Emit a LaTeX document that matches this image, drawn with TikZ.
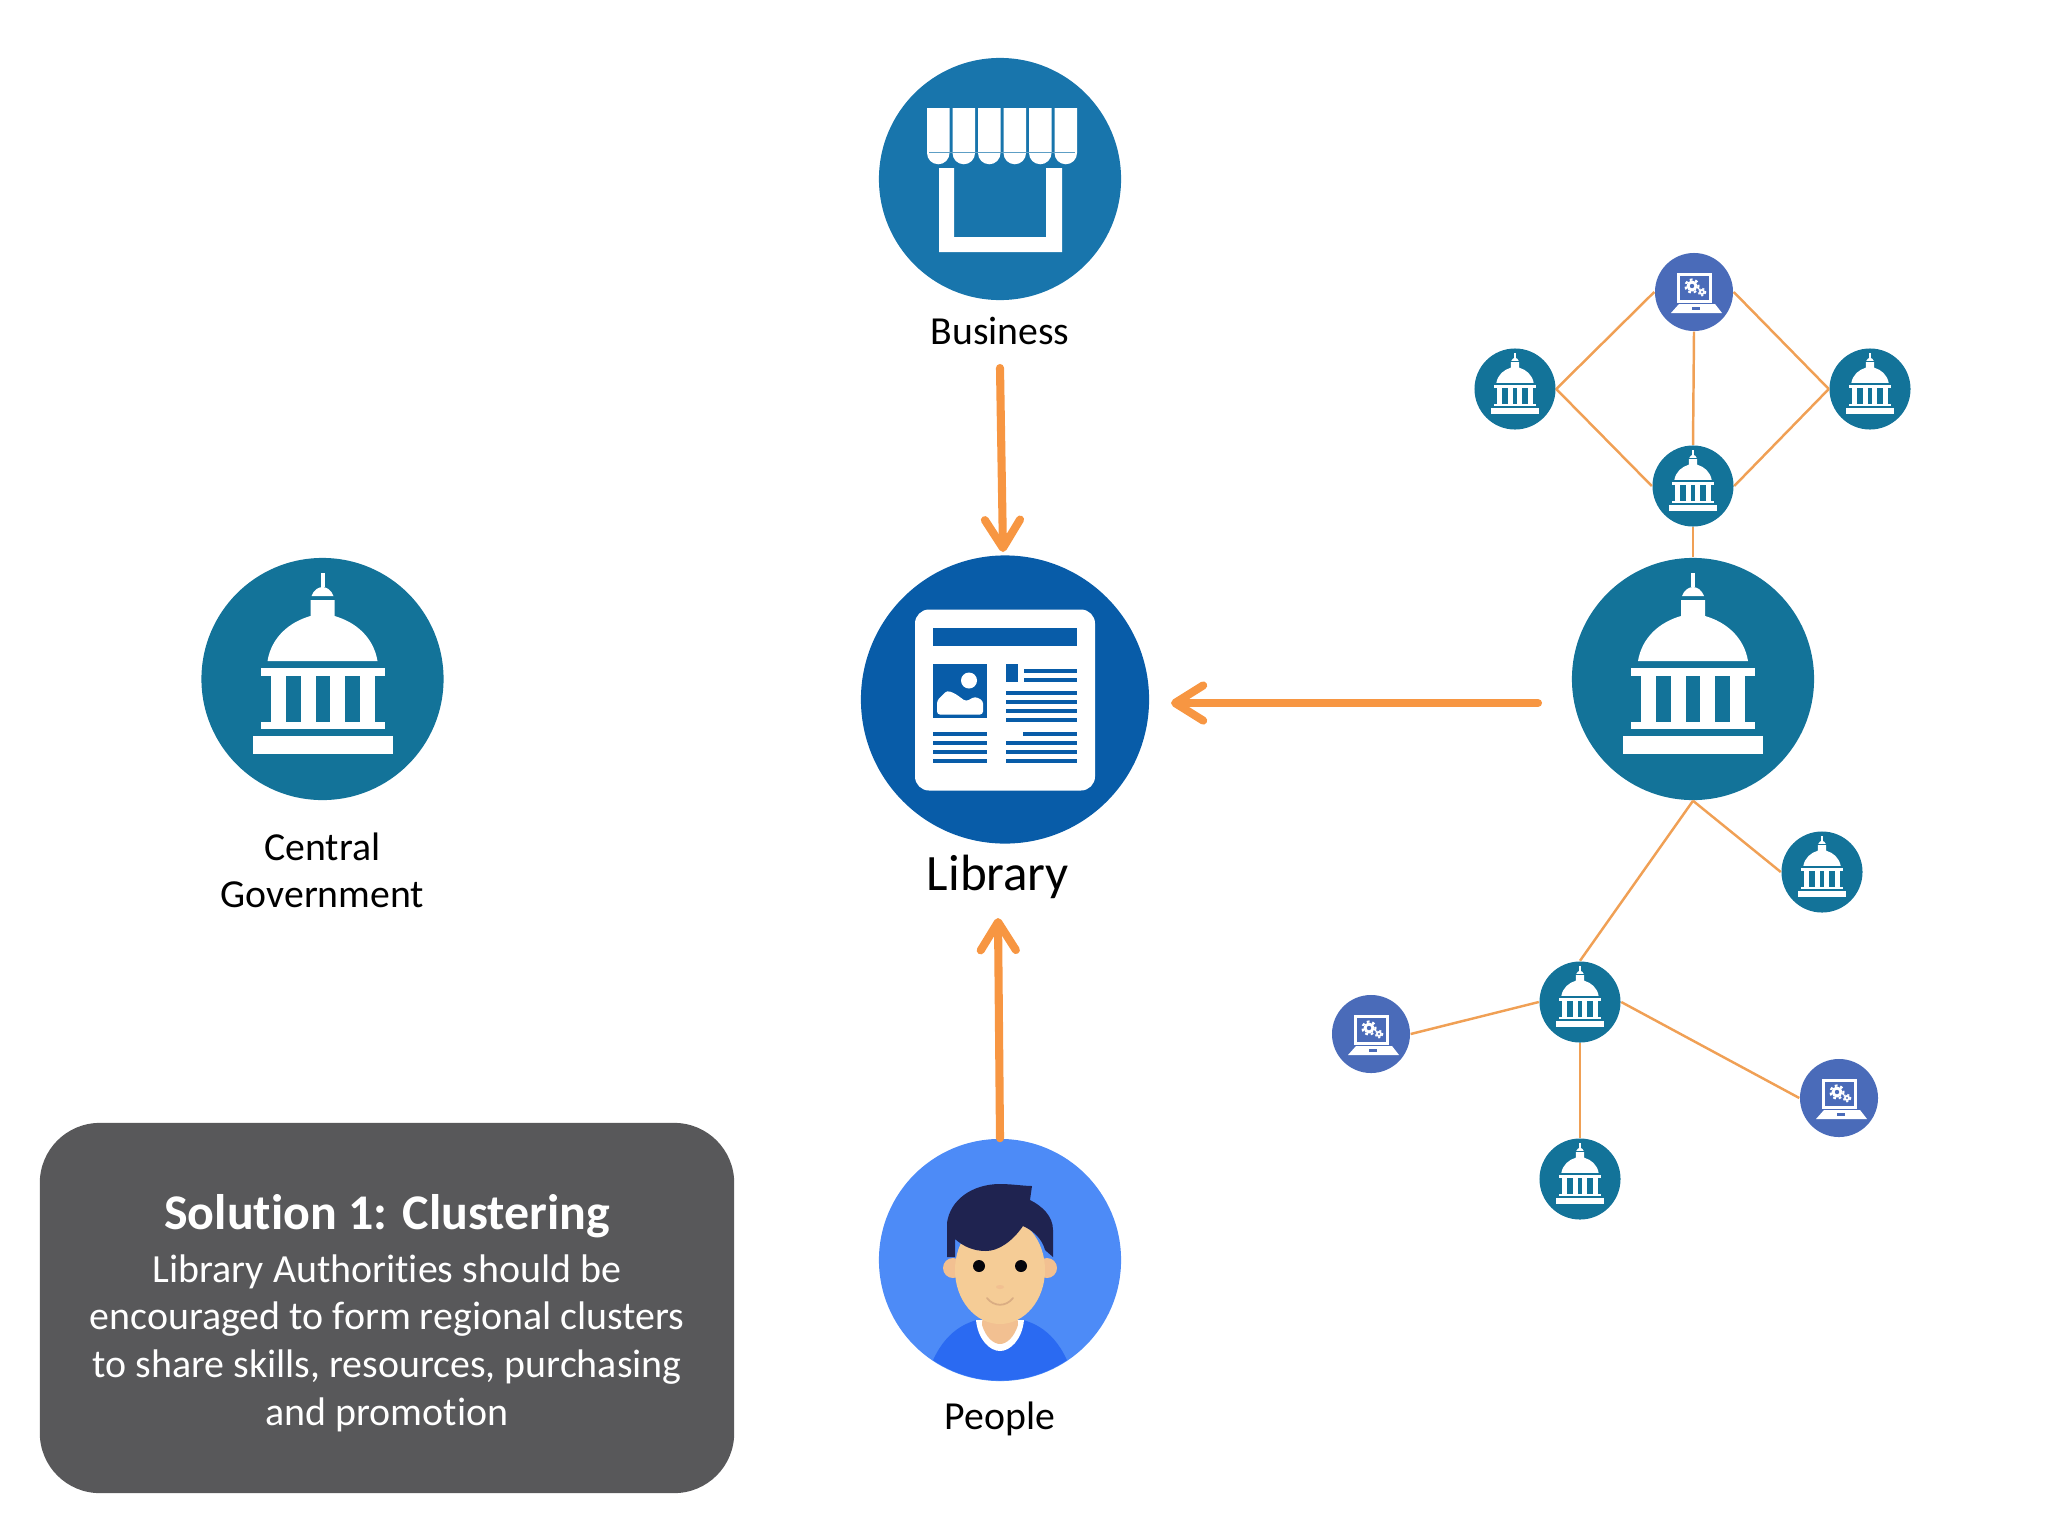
\documentclass[tikz,border=0pt]{standalone}
\usepackage{fontspec}
\setmainfont[Ligatures=NoCommon]{Carlito}
\usepackage{xcolor}
\usetikzlibrary{arrows.meta,positioning}
\definecolor{clusterorange}{RGB}{247,150,66}
\definecolor{linkorange}{RGB}{240,160,85}
\definecolor{govteal}{RGB}{19,115,153}
\definecolor{bizblue}{RGB}{24,117,172}
\definecolor{libblue}{RGB}{8,92,168}
\definecolor{laptopblue}{RGB}{74,107,185}
\definecolor{peopleblue}{RGB}{77,139,247}
\definecolor{shirtblue}{RGB}{42,106,242}
\definecolor{hairnavy}{RGB}{31,35,80}
\definecolor{skintone}{RGB}{245,204,150}
\definecolor{necktone}{RGB}{242,192,145}
\definecolor{boxgrey}{RGB}{88,88,90}

\tikzset{
  pics/capitol/.style={code={
    \fill[white] (-70,57) rectangle (70,75);
    \fill[white] (-62,43) rectangle (62,50);
    \fill[white] (-52,-3) rectangle (-37,43);
    \fill[white] (-22,-3) rectangle (-7,43);
    \fill[white] (7,-3) rectangle (22,43);
    \fill[white] (37,-3) rectangle (52,43);
    \fill[white] (-62,-11) rectangle (62,-3);
    \fill[white] (-55,-18) .. controls (-51,-42) and (-33,-57) .. (-12,-63) -- (-12,-79)
      -- (12,-79) -- (12,-63) .. controls (33,-57) and (51,-42) .. (55,-18) -- cycle;
    \fill[white] (-11,-83) .. controls (-9,-89) and (-4,-92) .. (0,-92)
      .. controls (4,-92) and (9,-89) .. (11,-83) -- cycle;
    \fill[white] (-2,-92) rectangle (2,-106);
  }},
  pics/laptop/.style={code={
    \fill[white] (-17,-19) rectangle (18,11);
    \fill[laptopblue] (-14,-16) rectangle (15,8);
    \fill[white] (-15,12) -- (21,12) -- (28,21) -- (-23,21) -- cycle;
    \fill[laptopblue] (-2,15) rectangle (6,18);
    \fill[white] (-2,-6) circle (5.5);
    \draw[white, line width=0.6pt, dash pattern=on 0.8pt off 0.8pt] (-2,-6) circle (6.5);
    \fill[laptopblue] (-2,-6) circle (2.2);
    \fill[white] (8,0) circle (3);
    \draw[white, line width=0.4pt, dash pattern=on 0.6pt off 0.6pt] (8,0) circle (3.6);
    \fill[laptopblue] (8,0) circle (1.2);
  }},
  pics/storefront/.style={code={
    % awning
    \fill[white] (-73,-71) -- (-50.5,-71) -- (-50.5,-26) arc[start angle=0,end angle=180,radius=11.25] -- cycle;
    \fill[white] (-47.5,-71) -- (-25,-71) -- (-25,-26) arc[start angle=0,end angle=180,radius=11.25] -- cycle;
    \fill[white] (-22,-71) -- (0.5,-71) -- (0.5,-26) arc[start angle=0,end angle=180,radius=11.25] -- cycle;
    \fill[white] (3.5,-71) -- (26,-71) -- (26,-26) arc[start angle=0,end angle=180,radius=11.25] -- cycle;
    \fill[white] (29,-71) -- (51.5,-71) -- (51.5,-26) arc[start angle=0,end angle=180,radius=11.25] -- cycle;
    \fill[white] (54.5,-71) -- (77,-71) -- (77,-26) arc[start angle=0,end angle=180,radius=11.25] -- cycle;
    \fill[bizblue!70] (-71,-27) rectangle (75,-25.8);
    % frame
    \fill[white] (-61,-11) -- (-46,-11) -- (-46,58) -- (46,58) -- (46,-11) -- (62,-11)
      -- (62,73) -- (-61,73) -- cycle;
  }},
  pics/newspage/.style={code={
    \fill[white, rounded corners=0.14cm] (-90,-90) rectangle (90,91);
    \fill[libblue] (-72,-72) rectangle (72,-54);
    \fill[libblue] (-72,-36) rectangle (-18,18);
    \fill[white] (-36,-19) circle (8);
    \fill[white, rounded corners=0.03cm] (-68,15) -- (-68,1) -- (-58,-9) -- (-50,-6) -- (-39,2)
      -- (-30,-3) -- (-22,1) -- (-22,15) -- cycle;
    \fill[libblue] (1,-36) rectangle (13,-18);
    \fill[libblue] (19,-31) rectangle (72,-27);
    \fill[libblue] (19,-22) rectangle (72,-18);
    \fill[libblue] (1,-9) rectangle (72,-5);
    \fill[libblue] (1,0) rectangle (72,4);
    \fill[libblue] (1,9) rectangle (72,13);
    \fill[libblue] (1,18) rectangle (72,22);
    \fill[libblue] (-72,32) rectangle (-18,36);
    \fill[libblue] (-72,41) rectangle (-18,45);
    \fill[libblue] (-72,50) rectangle (-18,54);
    \fill[libblue] (-72,59) rectangle (-18,63);
    \fill[libblue] (18,32) rectangle (72,36);
    \fill[libblue] (1,41) rectangle (72,45);
    \fill[libblue] (1,50) rectangle (72,54);
    \fill[libblue] (1,59) rectangle (72,63);
  }},
  pics/person/.style={code={
    \begin{scope}
      \clip (0,0) circle (120.5);
      \fill[shirtblue] (-75,125) .. controls (-66,85) and (-46,66) .. (-23,60) -- (23,60)
        .. controls (46,66) and (66,85) .. (75,125) -- cycle;
    \end{scope}
    \fill[white] (-24,60) .. controls (-22,80) and (-10,91) .. (0,91)
      .. controls (10,91) and (22,80) .. (24,60) -- cycle;
    \fill[necktone] (-17,50) -- (17,50) -- (18,65) .. controls (14,78) and (6,84) .. (0,84)
      .. controls (-6,84) and (-14,78) .. (-18,65) -- cycle;
    \fill[necktone] (-47,8) circle (10);
    \fill[necktone] (47,8) circle (10);
    \fill[skintone] (0,10) ellipse [x radius=45, y radius=54];
    \fill[hairnavy] (-53,-3) -- (-53,-37) .. controls (-50,-60) and (-28,-76) .. (0,-76)
      .. controls (12,-76) and (24,-74) .. (32,-74) -- (30,-60)
      .. controls (42,-54) and (53,-44) .. (53,-30) -- (53,-3) -- (45,-10)
      .. controls (42,-22) and (32,-30) .. (23,-34)
      .. controls (12,-18) and (-2,-9) .. (-14,-9)
      .. controls (-26,-9) and (-36,-13) .. (-45,-21) -- (-45,-3) -- cycle;
    \fill[black!85!hairnavy] (-21,6) circle (6);
    \fill[black!85!hairnavy] (21,6) circle (6);
    \fill[necktone] (0,27) ellipse [x radius=4, y radius=2];
    \draw[necktone!90!black, line width=0.5pt, line cap=round] (-13,38) .. controls (-6,47) and (6,47) .. (13,38);
  }},
}

\begin{document}
\begin{tikzpicture}[
  x=0.01cm, y=-0.01cm,
  bignode/.style={circle, minimum size=2.42cm, inner sep=0pt},
  smallgov/.style={circle, fill=govteal, minimum size=0.81cm, inner sep=0pt},
  smalllaptop/.style={circle, fill=laptopblue, minimum size=0.78cm, inner sep=0pt},
  labeltext/.style={anchor=base, inner sep=0pt, text=black, font=\fontsize{11.3}{13.6}\selectfont, align=center},
  infobox/.style={fill=boxgrey, rounded corners=0.6cm, minimum width=6.94cm, minimum height=3.7cm},
  infotext/.style={text=white, align=center, inner sep=0pt, font=\fontsize{11.35}{13.6}\selectfont},
  bigarrow/.style={-{Straight Barb[length=8pt, width=10pt, round]}, line width=2.3pt, clusterorange, line cap=round},
  link/.style={line width=0.7pt, linkorange},
]
  \useasboundingbox (0,0) rectangle (2048,1536);

  % Big circles
  \node[bignode, fill=bizblue] (biz) at (1000,179) {};
  \node[bignode, fill=libblue, minimum size=2.88cm] (lib) at (1005,699.5) {};
  \node[bignode, fill=peopleblue] (people) at (1000,1260) {};
  \node[bignode, fill=govteal] (central) at (322.5,679) {};
  \node[bignode, fill=govteal] (region) at (1693,679) {};

  % Icons in the big circles
  \pic at (biz) {storefront};
  \pic at (lib) {newspage};
  \pic at (people) {person};
  \pic at (central) {capitol};
  \pic at (region) {capitol};

  % Labels
  \node[labeltext] (bizlabel) at (1000,344) {Business};
  \node[labeltext, font=\fontsize{14.5}{17}\selectfont] (liblabel) at (998,890) {Library};
  \node[labeltext] (peoplelabel) at (1000,1429) {People};
  \node[labeltext] (centrallabel) at (322.5,860) {Central};
  \node[labeltext] (govlabel) at (322.5,907) {Government};

  % Cluster above the region
  \node[smalllaptop] (laptop1) at (1694,292) {};
  \node[smallgov] (gov1) at (1515,389) {};
  \node[smallgov] (gov2) at (1870,389) {};
  \node[smallgov] (gov3) at (1693,486) {};

  % Cluster below the region
  \node[smallgov] (gov4) at (1822,872) {};
  \node[smallgov] (gov5) at (1580,1002) {};
  \node[smallgov] (gov6) at (1580,1179) {};
  \node[smalllaptop] (laptop2) at (1371,1034) {};
  \node[smalllaptop] (laptop3) at (1839,1098) {};

  \pic[scale=.339] at (gov1) {capitol};
  \pic[scale=.339] at (gov2) {capitol};
  \pic[scale=.339] at (gov3) {capitol};
  \pic[scale=.339] at (gov4) {capitol};
  \pic[scale=.339] at (gov5) {capitol};
  \pic[scale=.339] at (gov6) {capitol};
  \pic at (laptop1) {laptop};
  \pic at (laptop2) {laptop};
  \pic at (laptop3) {laptop};

  % Thin links
  \draw[link] (laptop1.west) -- (gov1.east);
  \draw[link] (laptop1.east) -- (gov2.west);
  \draw[link] (laptop1.south) -- (gov3.north);
  \draw[link] (gov1.east) -- (gov3.west);
  \draw[link] (gov2.west) -- (gov3.east);
  \draw[link] (gov3.south) -- (region.north);
  \draw[link] (region.south) -- (gov4.west);
  \draw[link] (region.south) -- (gov5.north);
  \draw[link] (gov5.west) -- (laptop2.east);
  \draw[link] (gov5.east) -- (laptop3.west);
  \draw[link] (gov5.south) -- (gov6.north);

  % Arrows into the library
  \coordinate (bizstart) at (1000,368);
  \coordinate (bizend) at (1003,552);
  \coordinate (regionstart) at (1538,703);
  \coordinate (regionend) at (1171,703);
  \coordinate (peopleend) at (998,918);
  \draw[bigarrow] (bizstart) -- (bizend);
  \draw[bigarrow] (regionstart) -- (regionend);
  \draw[bigarrow] (people.north) -- (peopleend);

  % Text box
  \node[infobox] (solution) at (387,1308) {};
  \node[infotext] (solutiontext) at (387,1313) {{\fontsize{14.2}{17}\selectfont\bfseries Solution 1: Clustering}\\[1.5pt]
    Library Authorities should be\\
    encouraged to form regional clusters\\
    to share skills, resources, purchasing\\
    and promotion};
\end{tikzpicture}
\end{document}
